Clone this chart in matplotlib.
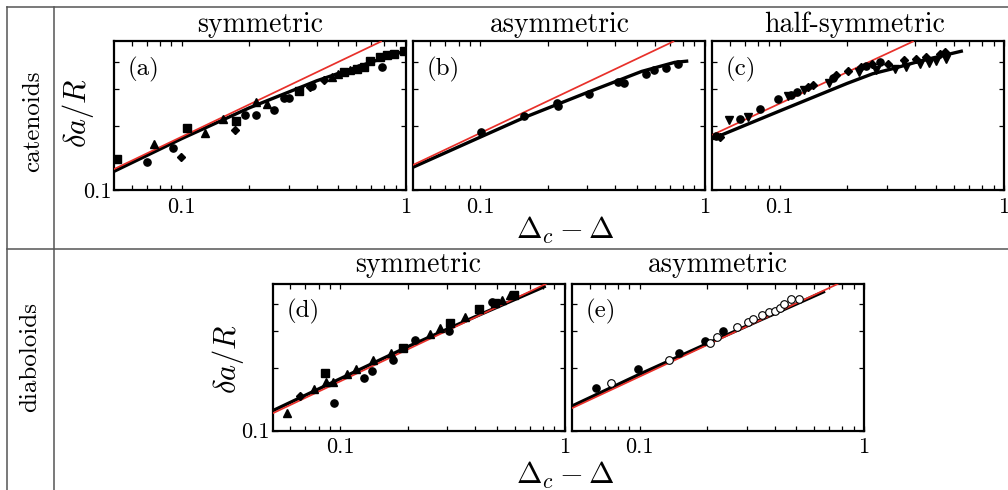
import matplotlib
matplotlib.use('Agg')
import matplotlib.pyplot as plt
from matplotlib.lines import Line2D
from matplotlib.ticker import FixedLocator, FuncFormatter, NullFormatter

plt.rcParams['font.family'] = 'cmr10'
plt.rcParams['mathtext.fontset'] = 'cm'
plt.rcParams['axes.unicode_minus'] = False

# ── Data ─────────────────────────────────────────────────────────────────
# (a) catenoids, symmetric
a_x = [0.0517, 0.1055, 0.175, 0.332, 0.527, 0.604, 0.647, 0.689, 0.769, 0.823, 0.88, 0.98,
       0.070, 0.092, 0.192, 0.214, 0.257, 0.285, 0.30, 0.381, 0.62, 0.78,
       0.0756, 0.127, 0.1537, 0.215, 0.24, 0.468, 0.50, 0.565,
       0.0992, 0.173, 0.374, 0.429]
a_y = [0.140, 0.197, 0.212, 0.294, 0.358, 0.372, 0.381, 0.407, 0.422, 0.430, 0.437, 0.450,
       0.136, 0.159, 0.226, 0.226, 0.239, 0.271, 0.273, 0.310, 0.375, 0.381,
       0.165, 0.187, 0.216, 0.259, 0.254, 0.340, 0.352, 0.368,
       0.1436, 0.192, 0.307, 0.330]
a_m = ['s'] * 12 + ['o'] * 10 + ['^'] * 8 + ['D'] * 4
a_theory_x = [0.05, 0.1, 0.2, 0.4, 0.7, 1.0]
a_theory_y = [0.123, 0.175, 0.244, 0.327, 0.400, 0.453]
a_fit_x = [0.05, 0.774]
a_fit_y = [0.126, 0.5]

# (b) catenoids, asymmetric
b_x = [0.1005, 0.157, 0.2225, 0.22, 0.306, 0.409, 0.438, 0.545, 0.596, 0.671, 0.758]
b_y = [0.1877, 0.224, 0.248, 0.257, 0.2824, 0.323, 0.321, 0.351, 0.369, 0.377, 0.391]
b_m = ['o'] * 11
b_theory_x = [0.05, 0.1, 0.158, 0.303, 0.524, 0.734, 0.845]
b_theory_y = [0.1284, 0.178, 0.2206, 0.2896, 0.362, 0.399, 0.405]
b_fit_x = [0.05, 0.725]
b_fit_y = [0.1316, 0.5]

# (c) catenoids, half-symmetric
c_x = [0.052, 0.0669, 0.0822, 0.0982, 0.113, 0.1193, 0.1726, 0.2415, 0.279,
       0.0597, 0.0721, 0.1088, 0.129, 0.1668, 0.227, 0.2695, 0.3254, 0.3667,
       0.4206, 0.463, 0.4996, 0.55,
       0.054, 0.1336, 0.1406, 0.1786, 0.2015, 0.231, 0.2586, 0.304, 0.358,
       0.4065, 0.45, 0.516, 0.544]
c_y = [0.181, 0.217, 0.2417, 0.2675, 0.282, 0.2896, 0.338, 0.383, 0.401,
       0.213, 0.222, 0.2763, 0.295, 0.319, 0.360, 0.366, 0.373, 0.380,
       0.392, 0.397, 0.405, 0.416,
       0.178, 0.306, 0.311, 0.347, 0.3625, 0.380, 0.394, 0.392, 0.4114,
       0.4159, 0.4235, 0.439, 0.447]
c_m = ['o'] * 9 + ['v'] * 13 + ['D'] * 13
c_theory_x = [0.05, 0.1, 0.2, 0.26, 0.32, 0.435, 0.656]
c_theory_y = [0.1746, 0.236, 0.318, 0.353, 0.373, 0.408, 0.452]
c_fit_x = [0.05, 0.393]
c_fit_y = [0.182, 0.5]

# (d) diaboloids, symmetric
d_x = [0.0581, 0.0765, 0.086, 0.0929, 0.1077, 0.117, 0.1401, 0.168, 0.2508, 0.278,
       0.359, 0.524, 0.570,
       0.066,
       0.0859, 0.1907, 0.307, 0.415, 0.49, 0.5965,
       0.0939, 0.1273, 0.1387, 0.172, 0.215, 0.305, 0.476]
d_y = [0.1218, 0.1574, 0.1712, 0.171, 0.1856, 0.196, 0.217, 0.2336, 0.288, 0.3074,
       0.347, 0.4195, 0.443,
       0.1463,
       0.189, 0.2486, 0.327, 0.379, 0.404, 0.443,
       0.135, 0.1789, 0.193, 0.217, 0.2706, 0.2997, 0.412]
d_m = ['^'] * 13 + ['D'] + ['s'] * 6 + ['o'] * 7
d_theory_x = [0.05, 0.2, 0.4, 0.823]
d_theory_y = [0.1245, 0.2513, 0.3495, 0.489]
d_fit_x = [0.05, 0.823]
d_fit_y = [0.121, 0.5]

# (e) diaboloids, asymmetric ('open' = hollow circle)
e_x = [0.0642, 0.0985, 0.1495, 0.1966, 0.236,
       0.0749, 0.1354, 0.2056, 0.2202, 0.273, 0.305, 0.321, 0.3496, 0.378,
       0.401, 0.422, 0.4413, 0.4726, 0.5147]
e_y = [0.159, 0.1967, 0.2353, 0.2685, 0.2997,
       0.1693, 0.217, 0.2627, 0.2785, 0.313, 0.3307, 0.3393, 0.356, 0.369,
       0.372, 0.383, 0.4016, 0.4226, 0.4226]
e_m = ['o'] * 5 + ['open'] * 14
e_theory_x = [0.05, 0.1, 0.2, 0.67]
e_theory_y = [0.131, 0.1857, 0.2597, 0.462]
e_fit_x = [0.05, 0.763]
e_fit_y = [0.128, 0.5]

x_major = [0.1, 1.0]
x_minor = [0.06, 0.07, 0.08, 0.09, 0.2, 0.3, 0.4, 0.5, 0.6, 0.7, 0.8, 0.9]
y_major = [0.1]
y_minor = [0.2, 0.3, 0.4]

# ── Style ─────────────────────────────────────────────────────────────────
RED = '#e8302a'
GRID = '#555555'
FS_TICK = 16
FS_TAG = 18
FS_TITLE = 20
FS_ROW = 18
FS_LAB = 22
W, H = 1008, 490

fig = plt.figure(figsize=(W / 100, H / 100), dpi=100)


def px_rect(x0, y0, x1, y1):
    # pixel box (top-left origin) -> figure fraction rect
    return [x0 / W, 1 - y1 / H, (x1 - x0) / W, (y1 - y0) / H]


def panel(rect, tag, xs, ys, ms, tx, ty, fx, fy, ylab=False):
    ax = fig.add_axes(rect)
    ax.set_xscale('log')
    ax.set_yscale('log')
    ax.set_xlim(0.05, 1)
    ax.set_ylim(0.1, 0.5)

    ax.plot(tx, ty, color='black', lw=2.4, solid_capstyle='butt', zorder=2)
    ax.plot(fx, fy, color=RED, lw=1.25, zorder=3)

    for mk in dict.fromkeys(ms):
        px = [x for x, m in zip(xs, ms) if m == mk]
        py = [y for y, m in zip(ys, ms) if m == mk]
        if mk == 'open':
            ax.plot(px, py, 'o', ms=5.5, mfc='white', mec='black', mew=0.8,
                    ls='none', zorder=4)
        else:
            ax.plot(px, py, mk, ms=4.2 if mk == 'D' else 5.2, color='black',
                    ls='none', zorder=4)

    ax.xaxis.set_major_locator(FixedLocator(x_major))
    ax.xaxis.set_minor_locator(FixedLocator(x_minor))
    ax.yaxis.set_major_locator(FixedLocator(y_major))
    ax.yaxis.set_minor_locator(FixedLocator(y_minor))
    ax.xaxis.set_major_formatter(FuncFormatter(lambda v, p: f'{v:g}'))
    ax.xaxis.set_minor_formatter(NullFormatter())
    ax.yaxis.set_minor_formatter(NullFormatter())
    if ylab:
        ax.yaxis.set_major_formatter(FuncFormatter(lambda v, p: f'{v:g}'))
    else:
        ax.yaxis.set_major_formatter(NullFormatter())

    ax.tick_params(which='both', direction='in', top=True, right=True,
                   length=3.5, width=0.9, labelsize=FS_TICK)
    ax.tick_params(axis='x', which='major', pad=5)
    ax.tick_params(axis='y', which='major', pad=2)
    for sp in ax.spines.values():
        sp.set_linewidth(1.6)

    ax.text(0.047, 0.81, tag, transform=ax.transAxes, ha='left', va='center',
            fontsize=FS_TAG)
    return ax


# ── Panels ────────────────────────────────────────────────────────────────
panel(px_rect(114, 41.5, 406, 190.5), '(a)', a_x, a_y, a_m,
      a_theory_x, a_theory_y, a_fit_x, a_fit_y, ylab=True)
panel(px_rect(412.7, 41.5, 704.7, 190.5), '(b)', b_x, b_y, b_m,
      b_theory_x, b_theory_y, b_fit_x, b_fit_y)
panel(px_rect(712, 41.5, 1004, 190.5), '(c)', c_x, c_y, c_m,
      c_theory_x, c_theory_y, c_fit_x, c_fit_y)
panel(px_rect(272.7, 284, 564.7, 430.7), '(d)', d_x, d_y, d_m,
      d_theory_x, d_theory_y, d_fit_x, d_fit_y, ylab=True)
panel(px_rect(572, 284, 864, 430.7), '(e)', e_x, e_y, e_m,
      e_theory_x, e_theory_y, e_fit_x, e_fit_y)

# ── Table frame ───────────────────────────────────────────────────────────
for xs_, ys_ in [([7, 7], [7, H]), ([54, 54], [7, H]),
                 ([7, W], [7, 7]), ([7, W], [249, 249])]:
    fig.add_artist(Line2D([x / W for x in xs_], [1 - y / H for y in ys_],
                          color=GRID, lw=1.1, transform=fig.transFigure))

# ── Headings and labels ───────────────────────────────────────────────────
def ftxt(x, y, s, **kw):
    fig.text(x / W, 1 - y / H, s, **kw)


ftxt(260, 31.5, 'symmetric', ha='center', va='baseline', fontsize=FS_TITLE)
ftxt(560, 31.5, 'asymmetric', ha='center', va='baseline', fontsize=FS_TITLE)
ftxt(855, 31.5, 'half-symmetric', ha='center', va='baseline', fontsize=FS_TITLE)
ftxt(418, 272, 'symmetric', ha='center', va='baseline', fontsize=FS_TITLE)
ftxt(718, 272, 'asymmetric', ha='center', va='baseline', fontsize=FS_TITLE)

ftxt(33, 121, 'catenoids', rotation=90, ha='center', va='center', fontsize=FS_ROW)
ftxt(30, 357, 'diaboloids', rotation=90, ha='center', va='center', fontsize=FS_ROW)

ftxt(78, 113, r'$\delta a/R$', rotation=90, ha='center', va='center', fontsize=FS_LAB)
ftxt(228, 359, r'$\delta a/R$', rotation=90, ha='center', va='center', fontsize=FS_LAB)
ftxt(565, 239, r'$\Delta_c - \Delta$', ha='center', va='baseline', fontsize=FS_LAB)
ftxt(565, 484, r'$\Delta_c - \Delta$', ha='center', va='baseline', fontsize=FS_LAB)

fig.savefig('out.png', dpi=100)
